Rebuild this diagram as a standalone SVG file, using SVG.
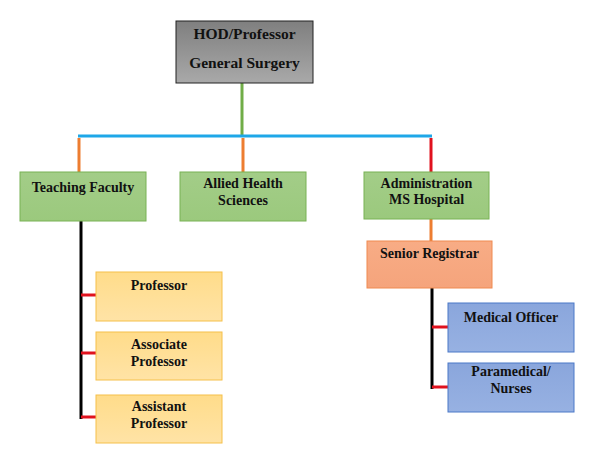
<svg xmlns="http://www.w3.org/2000/svg" width="599" height="469" viewBox="0 0 599 469">
<defs>
<linearGradient id="gGray" x1="0" y1="0" x2="0" y2="1"><stop offset="0" stop-color="#7f7f7f"/><stop offset="1" stop-color="#a9a9a9"/></linearGradient>
<linearGradient id="gGreen" x1="0" y1="0" x2="0" y2="1"><stop offset="0" stop-color="#a3cd88"/><stop offset="1" stop-color="#9bc97d"/></linearGradient>
<linearGradient id="gYellow" x1="0" y1="0" x2="0" y2="1"><stop offset="0" stop-color="#ffdc8a"/><stop offset="1" stop-color="#ffe3a6"/></linearGradient>
<linearGradient id="gSalmon" x1="0" y1="0" x2="0" y2="1"><stop offset="0" stop-color="#f8ac85"/><stop offset="1" stop-color="#f5a47c"/></linearGradient>
<linearGradient id="gBlue" x1="0" y1="0" x2="0" y2="1"><stop offset="0" stop-color="#8aa6dc"/><stop offset="1" stop-color="#97b1e2"/></linearGradient>
</defs>
<style>
text{font-family:"Liberation Serif","Times New Roman",serif;font-weight:bold;font-size:14px;fill:#111;text-anchor:middle}
.top{font-size:15.5px}
.gray{fill:url(#gGray);stroke:#222;stroke-width:1}
.green{fill:url(#gGreen);stroke:#78b254;stroke-width:1}
.yellow{fill:url(#gYellow);stroke:#f5c04a;stroke-width:1}
.salmon{fill:url(#gSalmon);stroke:#ef8a50;stroke-width:1}
.blue{fill:url(#gBlue);stroke:#4a78c8;stroke-width:1}
.c{fill:none;stroke-width:3}
</style>
<rect width="599" height="469" fill="#ffffff"/>
<g id="connectors">
<line class="c" x1="242" y1="83" x2="242" y2="136" stroke="#70ad47"/>
<line class="c" x1="78" y1="136" x2="432" y2="136" stroke="#1ea7e8" stroke-width="4"/>
<line class="c" x1="79" y1="138" x2="79" y2="172" stroke="#ed7d31"/>
<line class="c" x1="243" y1="138" x2="243" y2="172" stroke="#ed7d31"/>
<line class="c" x1="431" y1="138" x2="431" y2="172" stroke="#e0121e"/>
<line class="c" x1="431" y1="219" x2="431" y2="241" stroke="#ed7d31"/>
<line class="c" x1="81" y1="221" x2="81" y2="419" stroke="#000"/>
<line class="c" x1="81" y1="295" x2="96" y2="295" stroke="#e0121e"/>
<line class="c" x1="81" y1="353" x2="96" y2="353" stroke="#e0121e"/>
<line class="c" x1="81" y1="417" x2="96" y2="417" stroke="#e0121e"/>
<line class="c" x1="432" y1="288" x2="432" y2="389" stroke="#000"/>
<line class="c" x1="432" y1="327" x2="448" y2="327" stroke="#e0121e"/>
<line class="c" x1="432" y1="387" x2="448" y2="387" stroke="#e0121e"/>
</g>
<g id="hod"><rect class="gray" x="176" y="21" width="137" height="62"/><text class="top" x="244.5" y="39">HOD/Professor</text><text class="top" x="244.5" y="68">General Surgery</text></g>
<g id="teaching"><rect class="green" x="20" y="172" width="126" height="49"/><text x="83" y="192">Teaching Faculty</text></g>
<g id="allied"><rect class="green" x="180" y="172" width="126" height="49"/><text x="243" y="188">Allied Health</text><text x="243" y="205">Sciences</text></g>
<g id="admin"><rect class="green" x="364" y="172" width="125" height="47"/><text x="426.5" y="188">Administration</text><text x="426.5" y="204">MS Hospital</text></g>
<g id="senior"><rect class="salmon" x="367" y="241" width="125" height="47"/><text x="429.5" y="258">Senior Registrar</text></g>
<g id="professor"><rect class="yellow" x="96" y="272" width="126" height="49"/><text x="159" y="290">Professor</text></g>
<g id="associate"><rect class="yellow" x="96" y="332" width="126" height="48"/><text x="159" y="349">Associate</text><text x="159" y="366">Professor</text></g>
<g id="assistant"><rect class="yellow" x="96" y="395" width="126" height="48"/><text x="159" y="411">Assistant</text><text x="159" y="428">Professor</text></g>
<g id="medical"><rect class="blue" x="448" y="303" width="126" height="49"/><text x="511" y="322">Medical Officer</text></g>
<g id="paramedical"><rect class="blue" x="448" y="363" width="126" height="49"/><text x="511" y="376">Paramedical/</text><text x="511" y="393">Nurses</text></g>
</svg>
